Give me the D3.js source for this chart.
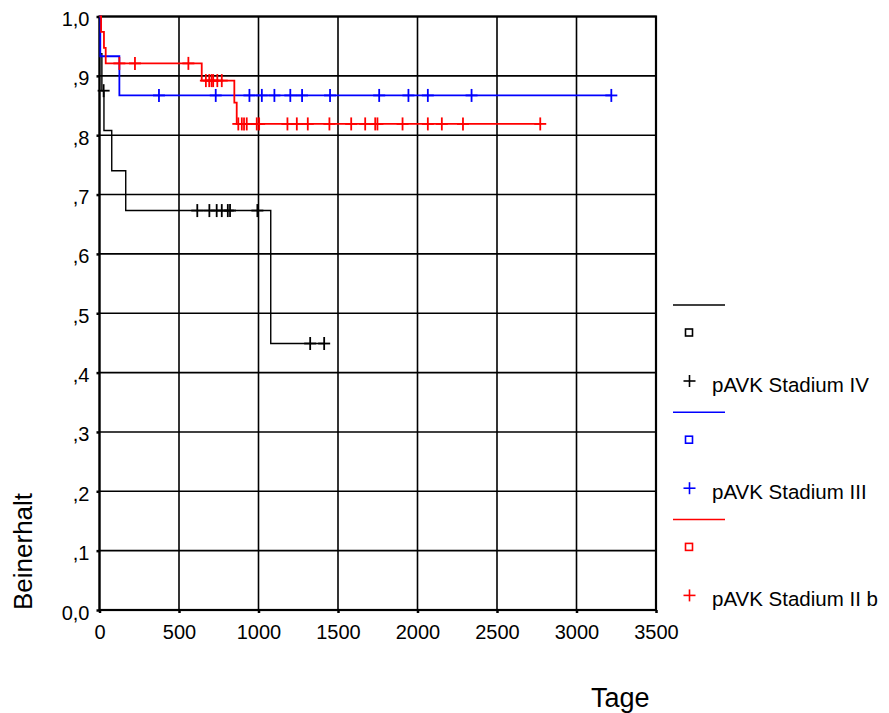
<!DOCTYPE html>
<html>
<head>
<meta charset="utf-8">
<script src="https://cdn.jsdelivr.net/npm/d3@7/dist/d3.min.js"></script>
<style>
    body { margin: 0; background: #fff; }
    text { font-family: Arial, "Liberation Sans", sans-serif; fill: #000; }
</style>
</head>
<body>
<div id="chart"></div>
<script>
// Kaplan-Meier data
let groupNames = ["pAVK Stadium IV", "pAVK Stadium III", "pAVK Stadium II b"];

// [day, survival] where the curve steps down
let stepsIV = [[0, 1], [5, 0.9375], [15, 0.875], [28, 0.808], [77, 0.740], [165, 0.673], [1077, 0.449]];
let stepsIII = [[0, 1], [5, 0.933], [125, 0.867]];
let stepsIIb = [[0, 1], [10, 0.974], [28, 0.947], [39, 0.921], [643, 0.892], [848, 0.855], [863, 0.819]];

// censored observations (days)
let censIV = [26, 615, 691, 737, 769, 807, 821, 993, 1325, 1413];
let censIII = [374, 731, 943, 1021, 1100, 1200, 1274, 1450, 1759, 1943, 2065, 2340, 3219];
let censIIb = [125, 223, 559, 669, 690, 705, 715, 741, 769, 873, 895, 909, 926, 989, 1004,
    1182, 1241, 1310, 1446, 1583, 1671, 1734, 1748, 1906, 2065, 2153, 2286, 2772];

let xTicks = [0, 500, 1000, 1500, 2000, 2500, 3000, 3500];
let yTicks = [0, 0.1, 0.2, 0.3, 0.4, 0.5, 0.6, 0.7, 0.8, 0.9, 1.0];

let colors = ["#000000", "#0000ff", "#ff0000"];
let groups = [
    {name: groupNames[0], steps: stepsIV, cens: censIV, color: colors[0]},
    {name: groupNames[1], steps: stepsIII, cens: censIII, color: colors[1]},
    {name: groupNames[2], steps: stepsIIb, cens: censIIb, color: colors[2]}
];

let width = 889, height = 713;
let svg = d3.select("#chart").append("svg")
    .attr("width", width)
    .attr("height", height);

let x = d3.scaleLinear().domain([0, 3500]).range([99.5, 656]);
let y = d3.scaleLinear().domain([0, 1]).range([610, 16.5]);

// grid
svg.append("g").selectAll("line")
    .data(xTicks)
    .enter().append("line")
    .attr("x1", d => x(d)).attr("x2", d => x(d))
    .attr("y1", y(0)).attr("y2", y(1))
    .attr("stroke", "#000").attr("stroke-width", 1.6);

svg.append("g").selectAll("line")
    .data(yTicks)
    .enter().append("line")
    .attr("x1", x(0)).attr("x2", x(3500))
    .attr("y1", d => y(d)).attr("y2", d => y(d))
    .attr("stroke", "#000").attr("stroke-width", 1.6);

// frame
svg.append("rect")
    .attr("x", x(0)).attr("y", y(1))
    .attr("width", x(3500) - x(0)).attr("height", y(0) - y(1))
    .attr("fill", "none").attr("stroke", "#000").attr("stroke-width", 2.2);

// axes
let yFmt = d => d === 0 ? "0,0" : d === 1 ? "1,0" : "," + Math.round(d * 10);

let yAxis = svg.append("g")
    .attr("transform", "translate(" + x(0) + ",0)")
    .call(d3.axisLeft(y).tickValues(yTicks).tickFormat(yFmt).tickSize(3).tickPadding(7));
yAxis.select(".domain").remove();
yAxis.selectAll(".tick line").attr("stroke-width", 2.5);
yAxis.selectAll("text").attr("font-size", 20).attr("dy", "0.45em");

let xAxis = svg.append("g")
    .attr("transform", "translate(0," + y(0) + ")")
    .call(d3.axisBottom(x).tickValues(xTicks).tickFormat(d3.format("d")).tickSize(3).tickPadding(12));
xAxis.select(".domain").remove();
xAxis.selectAll(".tick line").attr("stroke-width", 2.5);
xAxis.selectAll("text").attr("font-size", 20);

svg.append("text")
    .attr("x", 591).attr("y", 707)
    .attr("font-size", 27)
    .text("Tage");

svg.append("text")
    .attr("transform", "translate(32,610) rotate(-90)")
    .attr("font-size", 26)
    .text("Beinerhalt");

// survival curves
let line = d3.line()
    .x(d => x(d[0]))
    .y(d => y(d[1]))
    .curve(d3.curveStepAfter);

function survAt(steps, day) {
    let v = 1;
    steps.forEach(s => { if (s[0] <= day) v = s[1]; });
    return v;
}

groups.forEach(function(g) {
    let last = d3.max(g.cens);
    let pts = g.steps.concat([[last, survAt(g.steps, last)]]);
    svg.append("path")
        .datum(pts)
        .attr("d", line)
        .attr("fill", "none")
        .attr("stroke", g.color)
        .attr("stroke-width", g.color === "#000000" ? 1.4 : 1.8);

    let marks = svg.append("g").selectAll("g")
        .data(g.cens)
        .enter().append("g")
        .attr("transform", d => "translate(" + x(d) + "," + y(survAt(g.steps, d)) + ")");
    marks.append("line")
        .attr("x1", -6).attr("x2", 6).attr("y1", 0).attr("y2", 0)
        .attr("stroke", g.color).attr("stroke-width", 1.8);
    marks.append("line")
        .attr("x1", 0).attr("x2", 0).attr("y1", -6.5).attr("y2", 6.5)
        .attr("stroke", g.color).attr("stroke-width", 1.8);
});

// legend
let legend = svg.append("g").selectAll("g")
    .data(groups)
    .enter().append("g")
    .attr("transform", (d, i) => "translate(0," + (305 + i * 107.2) + ")");

legend.append("line")
    .attr("x1", 673).attr("x2", 725).attr("y1", 0).attr("y2", 0)
    .attr("stroke", d => d.color).attr("stroke-width", 1.5);

legend.append("rect")
    .attr("x", 685.5).attr("y", 24).attr("width", 7).attr("height", 7)
    .attr("fill", "none").attr("stroke", d => d.color).attr("stroke-width", 1.6);

legend.append("line")
    .attr("x1", 683.5).attr("x2", 695.5).attr("y1", 76).attr("y2", 76)
    .attr("stroke", d => d.color).attr("stroke-width", 1.6);
legend.append("line")
    .attr("x1", 689.5).attr("x2", 689.5).attr("y1", 70).attr("y2", 82)
    .attr("stroke", d => d.color).attr("stroke-width", 1.6);

legend.append("text")
    .attr("x", 712).attr("y", 87)
    .attr("font-size", 20.5)
    .text(d => d.name);
</script>
</body>
</html>
